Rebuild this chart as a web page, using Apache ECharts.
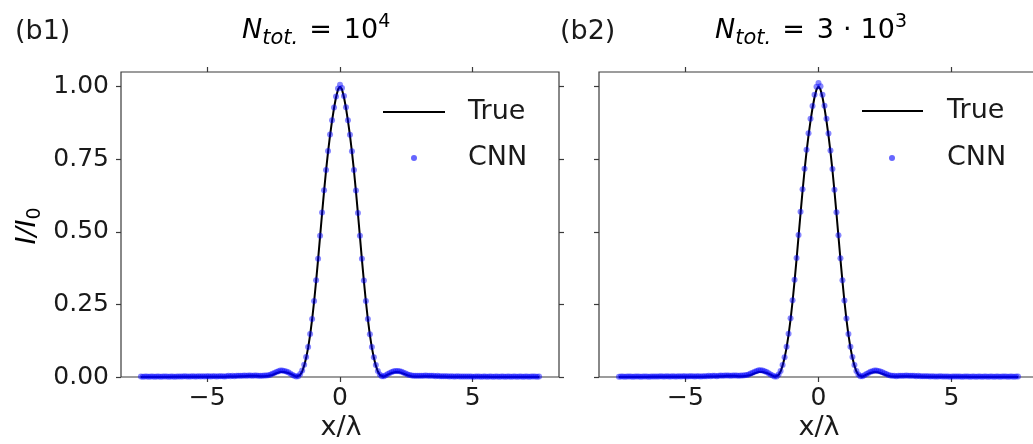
<!DOCTYPE html>
<html>
<head>
<meta charset="utf-8">
<script src="https://cdn.jsdelivr.net/npm/echarts@6/dist/echarts.min.js"></script>
<style>
html,body{margin:0;padding:0;background:#fff;}
#chart{width:1033px;height:444px;}
</style>
</head>
<body>
<div id="chart"></div>
<script>
// ---- data ----
const xPos = [
-7.5,-7.425,-7.35,-7.275,-7.2,-7.125,-7.05,-6.975,-6.9,-6.825,
-6.75,-6.675,-6.6,-6.525,-6.45,-6.375,-6.3,-6.225,-6.15,-6.075,
-6,-5.925,-5.85,-5.775,-5.7,-5.625,-5.55,-5.475,-5.4,-5.325,
-5.25,-5.175,-5.1,-5.025,-4.95,-4.875,-4.8,-4.725,-4.65,-4.575,
-4.5,-4.425,-4.35,-4.275,-4.2,-4.125,-4.05,-3.975,-3.9,-3.825,
-3.75,-3.675,-3.6,-3.525,-3.45,-3.375,-3.3,-3.225,-3.15,-3.075,
-3,-2.925,-2.85,-2.775,-2.7,-2.625,-2.55,-2.475,-2.4,-2.325,
-2.25,-2.175,-2.1,-2.025,-1.95,-1.875,-1.8,-1.725,-1.65,-1.575,
-1.5,-1.425,-1.35,-1.275,-1.2,-1.125,-1.05,-0.975,-0.9,-0.825,
-0.75,-0.675,-0.6,-0.525,-0.45,-0.375,-0.3,-0.225,-0.15,-0.075,
0,0.075,0.15,0.225,0.3,0.375,0.45,0.525,0.6,0.675,
0.75,0.825,0.9,0.975,1.05,1.125,1.2,1.275,1.35,1.425,
1.5,1.575,1.65,1.725,1.8,1.875,1.95,2.025,2.1,2.175,
2.25,2.325,2.4,2.475,2.55,2.625,2.7,2.775,2.85,2.925,
3,3.075,3.15,3.225,3.3,3.375,3.45,3.525,3.6,3.675,
3.75,3.825,3.9,3.975,4.05,4.125,4.2,4.275,4.35,4.425,
4.5,4.575,4.65,4.725,4.8,4.875,4.95,5.025,5.1,5.175,
5.25,5.325,5.4,5.475,5.55,5.625,5.7,5.775,5.85,5.925,
6,6.075,6.15,6.225,6.3,6.375,6.45,6.525,6.6,6.675,
6.75,6.825,6.9,6.975,7.05,7.125,7.2,7.275,7.35,7.425,
7.5
];

const trueIntensity = [
0,0,0,0,0,0,0,0,0,0,
0,0,0,0,0,0.001,0.001,0.001,0.001,0.001,
0.001,0.001,0.001,0.001,0.001,0.001,0.001,0.001,0.001,0.001,
0.001,0.001,0.001,0.001,0.001,0.001,0.001,0.001,0.001,0.001,
0.001,0.001,0.001,0.002,0.002,0.002,0.002,0.002,0.002,0.003,
0.003,0.003,0.003,0.004,0.004,0.004,0.004,0.004,0.004,0.004,
0.003,0.003,0.003,0.003,0.004,0.005,0.007,0.010,0.013,0.015,
0.017,0.018,0.017,0.016,0.014,0.011,0.008,0.004,0.001,0.001,
0.007,0.019,0.039,0.066,0.101,0.145,0.198,0.260,0.330,0.405,
0.484,0.563,0.640,0.711,0.775,0.832,0.882,0.926,0.963,0.990,
1.000,0.990,0.963,0.926,0.882,0.832,0.775,0.711,0.640,0.563,
0.484,0.405,0.330,0.260,0.198,0.145,0.101,0.066,0.039,0.019,
0.007,0.001,0.001,0.004,0.008,0.011,0.014,0.016,0.017,0.017,
0.016,0.014,0.011,0.009,0.006,0.004,0.003,0.002,0.002,0.002,
0.002,0.003,0.003,0.003,0.003,0.003,0.003,0.002,0.002,0.002,
0.002,0.002,0.002,0.002,0.001,0.001,0.001,0.001,0.001,0.001,
0.001,0.001,0.001,0.001,0.001,0.001,0.001,0.001,0.001,0.001,
0.001,0.001,0.001,0.001,0.001,0,0,0,0,0,
0,0,0,0,0,0,0,0,0,0,
0,0,0,0,0,0,0,0,0,0,
0
];

const cnnIntensityB1 = [
0.002,0.001,0.002,0.002,0.001,0.002,0.002,0.001,0.002,0.002,
0.001,0.002,0.002,0.002,0.001,0.002,0.002,0.001,0.002,0.002,
0.002,0.002,0.003,0.002,0.002,0.002,0.003,0.002,0.002,0.003,
0.002,0.003,0.002,0.003,0.003,0.002,0.003,0.003,0.002,0.003,
0.003,0.003,0.002,0.003,0.004,0.003,0.004,0.003,0.004,0.004,
0.004,0.004,0.005,0.004,0.005,0.005,0.004,0.005,0.005,0.004,
0.004,0.004,0.005,0.005,0.006,0.008,0.011,0.014,0.017,0.020,
0.022,0.022,0.021,0.019,0.016,0.012,0.008,0.004,0.002,0.003,
0.010,0.022,0.042,0.069,0.103,0.148,0.200,0.262,0.333,0.407,
0.486,0.566,0.643,0.713,0.778,0.835,0.884,0.928,0.966,0.993,
1.006,0.995,0.967,0.929,0.884,0.834,0.777,0.713,0.642,0.565,
0.486,0.407,0.332,0.262,0.200,0.147,0.103,0.068,0.041,0.021,
0.009,0.003,0.003,0.006,0.010,0.014,0.017,0.020,0.021,0.021,
0.020,0.018,0.015,0.012,0.009,0.007,0.005,0.004,0.004,0.004,
0.004,0.004,0.004,0.005,0.004,0.004,0.004,0.004,0.003,0.004,
0.003,0.003,0.003,0.003,0.003,0.002,0.003,0.002,0.002,0.003,
0.002,0.002,0.002,0.002,0.002,0.002,0.002,0.001,0.002,0.002,
0.002,0.001,0.002,0.002,0.001,0.002,0.002,0.001,0.002,0.002,
0.001,0.002,0.002,0.001,0.002,0.002,0.001,0.002,0.002,0.001,
0.002,0.002,0.001,0.002,0.002,0.001,0.002,0.002,0.002,0.001,
0.002
];

const cnnIntensityB2 = [
0.001,0.002,0.002,0.001,0.002,0.002,0.002,0.001,0.002,0.002,
0.002,0.001,0.002,0.002,0.002,0.001,0.002,0.002,0.002,0.002,
0.002,0.003,0.002,0.002,0.003,0.002,0.002,0.003,0.002,0.002,
0.003,0.002,0.003,0.003,0.002,0.003,0.003,0.003,0.002,0.003,
0.003,0.002,0.003,0.003,0.003,0.004,0.003,0.004,0.004,0.003,
0.004,0.005,0.004,0.005,0.005,0.005,0.004,0.005,0.005,0.005,
0.004,0.005,0.005,0.006,0.007,0.009,0.012,0.015,0.018,0.021,
0.023,0.023,0.022,0.020,0.017,0.013,0.009,0.005,0.002,0.002,
0.009,0.021,0.041,0.068,0.104,0.149,0.202,0.264,0.335,0.410,
0.489,0.569,0.646,0.717,0.782,0.839,0.889,0.933,0.972,0.999,
1.012,1.001,0.972,0.934,0.889,0.838,0.780,0.716,0.645,0.567,
0.488,0.409,0.333,0.263,0.201,0.148,0.104,0.069,0.041,0.021,
0.009,0.003,0.003,0.006,0.010,0.014,0.018,0.020,0.022,0.022,
0.021,0.019,0.016,0.013,0.010,0.007,0.005,0.004,0.004,0.003,
0.004,0.004,0.004,0.004,0.005,0.004,0.004,0.004,0.004,0.003,
0.004,0.003,0.003,0.003,0.003,0.003,0.002,0.003,0.002,0.002,
0.002,0.003,0.002,0.002,0.002,0.002,0.001,0.002,0.002,0.002,
0.002,0.002,0.001,0.002,0.002,0.002,0.001,0.002,0.002,0.001,
0.002,0.002,0.001,0.002,0.002,0.001,0.002,0.002,0.001,0.002,
0.002,0.001,0.002,0.002,0.002,0.001,0.002,0.002,0.001,0.002,
0.002
];

const xTicks = [-5, 0, 5];
const yTicks = [0, 0.25, 0.5, 0.75, 1.0];
const seriesNames = ['True', 'CNN'];
const panelTags = ['(b1)', '(b2)'];

// ---- build ----
const zip = (xs, ys) => xs.map((x, i) => [x, ys[i]]);
const FONT = '"DejaVu Sans", sans-serif';
const TXT = '#1a1a1a';
const FRAME = '#3a3a3a';
const BIG = 27;
const fmtX = v => (v < 0 ? '\u2212' + Math.abs(v) : String(v));

function xAx(grid, pos, labels) {
  return {
    type: 'value', gridIndex: grid, position: pos, min: -8.25, max: 8.25,
    axisLine: { show: false, onZero: false },
    splitLine: { show: false },
    axisTick: { show: true, customValues: xTicks, length: 5, lineStyle: { color: FRAME, width: 1.2 } },
    axisLabel: labels ? { show: true, customValues: xTicks, formatter: fmtX, fontSize: 25, fontFamily: FONT, color: TXT, margin: 9 } : { show: false }
  };
}
function yAx(grid, pos, labels) {
  return {
    type: 'value', gridIndex: grid, position: pos, min: 0, max: 1.05,
    axisLine: { show: false, onZero: false },
    splitLine: { show: false },
    axisTick: { show: true, customValues: yTicks, length: 5, lineStyle: { color: FRAME, width: 1.2 } },
    axisLabel: labels ? { show: true, customValues: yTicks, formatter: v => v.toFixed(2), fontSize: 25, fontFamily: FONT, color: TXT, margin: 12 } : { show: false }
  };
}

const titleRich = {
  n: { fontSize: BIG, fontStyle: 'italic', fontFamily: FONT, color: TXT, lineHeight: 36, verticalAlign: 'middle' },
  t: { fontSize: 21, fontStyle: 'italic', fontFamily: FONT, color: TXT, lineHeight: 21, verticalAlign: 'bottom' },
  e: { fontSize: BIG, fontFamily: FONT, color: TXT, lineHeight: 36, padding: [0, 12, 0, 11] },
  d: { fontSize: BIG, fontFamily: FONT, color: TXT, lineHeight: 36 },
  c: { fontSize: BIG, fontFamily: FONT, color: TXT, lineHeight: 36, padding: [0, 9, 0, 9] },
  p: { fontSize: 19, fontFamily: FONT, color: TXT, lineHeight: 19, verticalAlign: 'top' }
};

function legendGraphics(lineX0, lineX1, lineY, dotX, dotY, textX) {
  return [
    { type: 'line', shape: { x1: lineX0, y1: lineY, x2: lineX1, y2: lineY }, style: { stroke: '#000', lineWidth: 2 } },
    { type: 'text', x: textX, y: lineY, style: { text: seriesNames[0], font: BIG + 'px ' + FONT, fill: TXT, align: 'left', verticalAlign: 'middle' } },
    { type: 'circle', shape: { cx: dotX, cy: dotY, r: 3 }, style: { fill: 'rgba(0,0,255,0.6)' } },
    { type: 'text', x: textX, y: dotY, style: { text: seriesNames[1], font: BIG + 'px ' + FONT, fill: TXT, align: 'left', verticalAlign: 'middle' } }
  ];
}

const option = {
  animation: false,
  backgroundColor: '#fff',
  grid: [
    { left: 121, top: 72, width: 438, height: 305, outerBoundsMode: 'none', containLabel: false, show: true, borderColor: FRAME, borderWidth: 1.2, backgroundColor: 'transparent' },
    { left: 599, top: 72, width: 439, height: 305, outerBoundsMode: 'none', containLabel: false, show: true, borderColor: FRAME, borderWidth: 1.2, backgroundColor: 'transparent' }
  ],
  xAxis: [xAx(0, 'bottom', true), xAx(0, 'top', false), xAx(1, 'bottom', true), xAx(1, 'top', false)],
  yAxis: [yAx(0, 'left', true), yAx(0, 'right', false), yAx(1, 'left', false)],
  series: [
    { name: seriesNames[0], type: 'line', xAxisIndex: 0, yAxisIndex: 0, data: zip(xPos, trueIntensity), showSymbol: false, symbol: 'none', lineStyle: { color: '#000', width: 2 }, itemStyle: { color: '#000' }, z: 2 },
    { name: seriesNames[1], type: 'scatter', xAxisIndex: 0, yAxisIndex: 0, data: zip(xPos, cnnIntensityB1), symbolSize: 6, itemStyle: { color: 'rgba(0,0,255,0.6)' }, z: 3 },
    { name: seriesNames[0], type: 'line', xAxisIndex: 2, yAxisIndex: 2, data: zip(xPos, trueIntensity), showSymbol: false, symbol: 'none', lineStyle: { color: '#000', width: 2 }, itemStyle: { color: '#000' }, z: 2 },
    { name: seriesNames[1], type: 'scatter', xAxisIndex: 2, yAxisIndex: 2, data: zip(xPos, cnnIntensityB2), symbolSize: 6, itemStyle: { color: 'rgba(0,0,255,0.6)' }, z: 3 }
  ],
  graphic: [
    { type: 'text', x: 15, y: 32, style: { text: panelTags[0], font: BIG + 'px ' + FONT, fill: TXT, align: 'left', verticalAlign: 'middle' } },
    { type: 'text', x: 560, y: 32, style: { text: panelTags[1], font: BIG + 'px ' + FONT, fill: TXT, align: 'left', verticalAlign: 'middle' } },
    { type: 'text', x: 242, y: 31, style: { text: '{n|N}{t|tot.}{e|=}{d|10}{p|4}', rich: titleRich, align: 'left', verticalAlign: 'middle' } },
    { type: 'text', x: 715, y: 31, style: { text: '{n|N}{t|tot.}{e|=}{d|3}{c|\u00b7}{d|10}{p|3}', rich: titleRich, align: 'left', verticalAlign: 'middle' } },
    { type: 'text', x: 28, y: 226, rotation: Math.PI / 2, style: {
        text: '{i|I/I}{s|0}', align: 'center', verticalAlign: 'middle',
        rich: {
          i: { fontSize: BIG, fontStyle: 'italic', fontFamily: FONT, color: TXT, lineHeight: 34, verticalAlign: 'middle' },
          s: { fontSize: 19, fontFamily: FONT, color: TXT, lineHeight: 19, verticalAlign: 'bottom' }
        } } },
    { type: 'text', x: 341, y: 428, style: { text: 'x/\u03bb', font: BIG + 'px ' + FONT, fill: TXT, align: 'center', verticalAlign: 'middle' } },
    { type: 'text', x: 819, y: 428, style: { text: 'x/\u03bb', font: BIG + 'px ' + FONT, fill: TXT, align: 'center', verticalAlign: 'middle' } }
  ].concat(legendGraphics(383, 445, 112, 414, 158, 468), legendGraphics(862, 923, 111, 892, 158, 947))
};

const chart = echarts.init(document.getElementById('chart'), null, { renderer: 'canvas' });
chart.setOption(option);
</script>
</body>
</html>
